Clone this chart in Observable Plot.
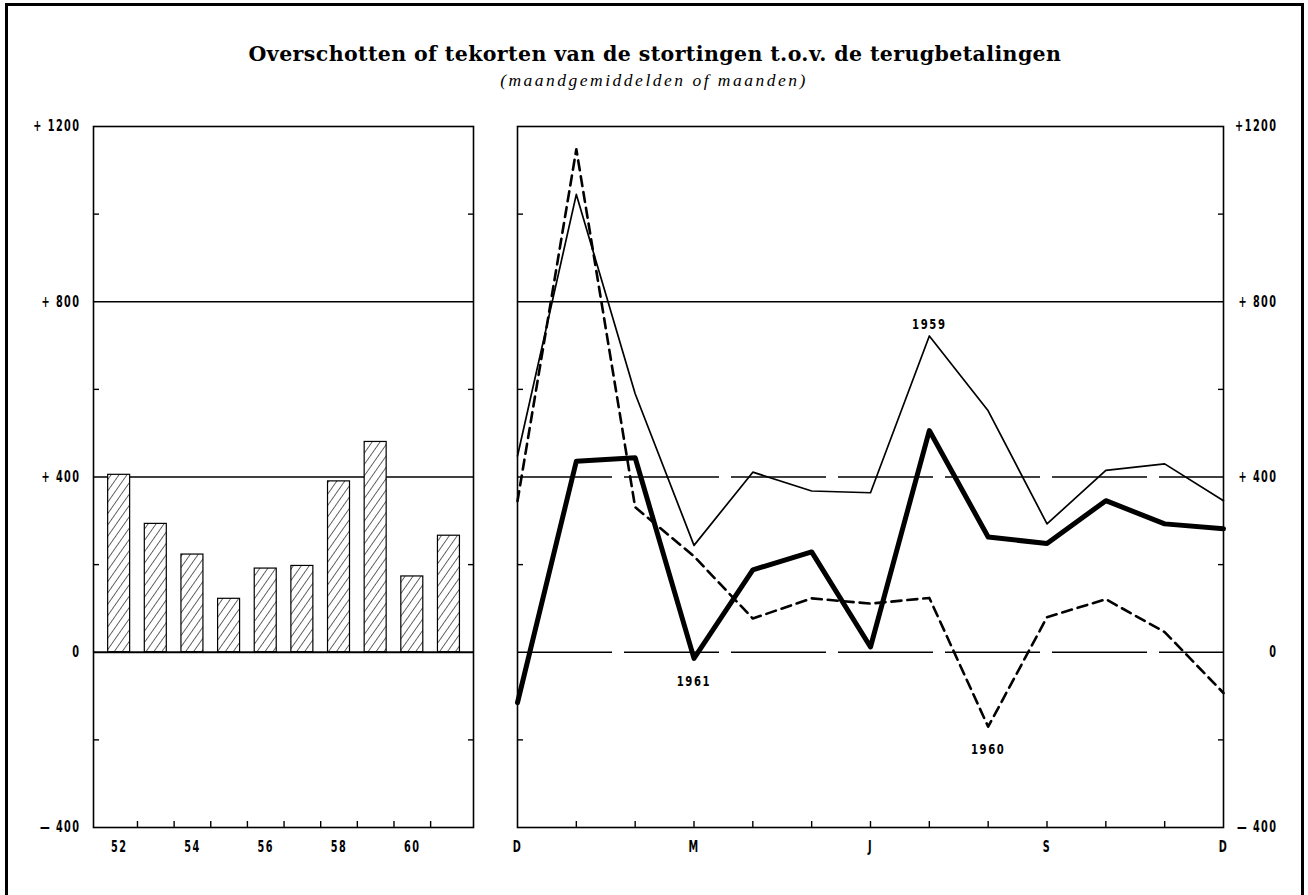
<!DOCTYPE html>
<html>
<head>
<meta charset="utf-8">
<script src="https://cdn.jsdelivr.net/npm/d3@7"></script>
<script src="https://cdn.jsdelivr.net/npm/@observablehq/plot@0.6"></script>
<style>
  html, body { margin: 0; padding: 0; background: #fff; overflow: hidden; }
  #page { position: relative; width: 1308px; height: 895px; overflow: hidden; }
  #border { position: absolute; left: 5px; top: 3px; width: 1293px; height: 910px; border: 3px solid #000; }
  #title { position: absolute; left: 0; width: 1310px; top: 42px; text-align: center;
    font-family: "DejaVu Serif", serif; font-weight: bold; font-size: 20.5px; color: #000; letter-spacing: 0.4px; }
  #subtitle { position: absolute; left: 0; width: 1308px; top: 70px; text-align: center;
    font-family: "Liberation Serif", serif; font-style: italic; font-size: 17.5px; color: #000; letter-spacing: 2.5px; }
  .panel { position: absolute; top: 100px; }
  .panel svg text { letter-spacing: 2px; }
</style>
</head>
<body>
<svg width="0" height="0" style="position:absolute">
  <defs>
    <pattern id="hatch" width="6.5" height="6.5" patternUnits="userSpaceOnUse" patternTransform="rotate(35)">
      <rect width="6.5" height="6.5" fill="#fff"></rect>
      <line x1="0" y1="0" x2="0" y2="6.5" stroke="#000" stroke-width="1.2"></line>
    </pattern>
  </defs>
</svg>
<div id="page">
  <div id="border"></div>
  <div id="title">Overschotten of tekorten van de stortingen t.o.v. de terugbetalingen</div>
  <div id="subtitle">(maandgemiddelden of maanden)</div>
  <div id="left" class="panel" style="left:0px"></div>
  <div id="right" class="panel" style="left:490px"></div>
</div>
<script>
// ---- Data ----
const years = [52, 53, 54, 55, 56, 57, 58, 59, 60, 61];
const yearlyAverages = [405, 293, 223, 122, 191, 197, 390, 480, 173, 266];
const yearTickLabels = [52, 54, 56, 58, 60];

const monthIndex = [0, 1, 2, 3, 4, 5, 6, 7, 8, 9, 10, 11, 12];
const monthTickLabels = ["D", "M", "J", "S", "D"];
const monthTickPositions = [0, 3, 6, 9, 12];

const series1959 = [448, 1045, 590, 244, 411, 368, 364, 722, 551, 293, 415, 430, 346];
const series1960 = [345, 1148, 331, 219, 77, 123, 111, 124, -170, 80, 121, 46, -93];
const series1961 = [-115, 436, 444, -14, 188, 229, 12, 506, 263, 248, 346, 293, 282];

const yLabelValues = [-400, 0, 400, 800, 1200];
const yMinorTicks = [-200, 200, 600, 1000];
const yGridSolid = [800];
const yGridBroken = [400, 0];

const annotations = [
  {label: "1959", series: series1959, m: 7, dy: -15},
  {label: "1961", series: series1961, m: 3, dy: 19},
  {label: "1960", series: series1960, m: 8, dy: 19}
];

// ---- Tables ----
const bars = years.map((y, i) => ({year: y, value: yearlyAverages[i]}));
const rows = monthIndex.map((m, i) => ({m, v59: series1959[i], v60: series1960[i], v61: series1961[i]}));
const notes = annotations.map(a => ({label: a.label, m: a.m, v: a.series[a.m], dy: a.dy}));

const font = {fontFamily: "'Liberation Sans Narrow', 'DejaVu Sans Condensed', 'DejaVu Sans', sans-serif", fontWeight: "bold", fontSize: 15};
const fmtLeft = d => d > 0 ? "+ " + d : d < 0 ? "\u2014 " + (-d) : "0";
const fmtRight = d => d === 1200 ? "+1200" : d > 0 ? "+ " + d : d < 0 ? "\u2014 " + (-d) : "0";

// ---- Left panel: yearly averages ----
const left = Plot.plot({
  width: 500, height: 760,
  marginLeft: 93, marginRight: 27, marginTop: 26, marginBottom: 33,
  x: {type: "linear", domain: [51.3, 61.67], label: null},
  y: {domain: [-400, 1200], label: null},
  style: {background: "transparent", color: "#000"},
  marks: [
    Plot.ruleY(yGridSolid.concat([400]), {stroke: "#000", strokeWidth: 1.3}),
    Plot.rectY(bars, {x1: d => d.year - 0.3, x2: d => d.year + 0.3, y1: 0, y2: "value",
      fill: "url(#hatch)", stroke: "#000", strokeWidth: 1.2}),
    Plot.ruleY([0], {stroke: "#000", strokeWidth: 2}),
    Plot.frame({stroke: "#000", strokeWidth: 1.6}),
    Plot.axisY({anchor: "left", ticks: yLabelValues, tickSize: 0, tickPadding: 13, tickFormat: fmtLeft, ...font}),
    Plot.axisY({anchor: "left", ticks: yMinorTicks, tickSize: -6, tickFormat: () => "", strokeWidth: 1.4}),
    Plot.axisY({anchor: "right", ticks: yMinorTicks, tickSize: -6, tickFormat: () => "", strokeWidth: 1.4}),
    Plot.axisX({anchor: "bottom", ticks: yearTickLabels, tickSize: 0, tickPadding: 14, tickFormat: d => String(d), ...font}),
    Plot.axisX({anchor: "bottom", ticks: years.slice(0, -1).map(y => y + 0.5), tickSize: -6, tickFormat: () => "", strokeWidth: 1.4})
  ]
});
document.getElementById("left").appendChild(left);

// ---- Right panel: monthly series ----
const right = Plot.plot({
  width: 818, height: 760,
  marginLeft: 27, marginRight: 85, marginTop: 26, marginBottom: 33,
  x: {type: "linear", domain: [0, 12], label: null},
  y: {domain: [-400, 1200], label: null},
  style: {background: "transparent", color: "#000"},
  marks: [
    Plot.ruleY(yGridSolid, {stroke: "#000", strokeWidth: 1.4}),
    Plot.ruleY(yGridBroken, {stroke: "#000", strokeWidth: 1.6, strokeDasharray: "95,12"}),
    Plot.line(rows, {x: "m", y: "v59", stroke: "#000", strokeWidth: 1.7}),
    Plot.line(rows, {x: "m", y: "v60", stroke: "#000", strokeWidth: 2.6, strokeDasharray: "10,6"}),
    Plot.line(rows, {x: "m", y: "v61", stroke: "#000", strokeWidth: 5}),
    Plot.text(notes, {x: "m", y: "v", text: "label", ...font, fontSize: 14}),
    Plot.frame({stroke: "#000", strokeWidth: 1.6}),
    Plot.axisY({anchor: "right", ticks: yLabelValues, tickSize: 0, tickPadding: 54, textAnchor: "end", tickFormat: fmtRight, ...font}),
    Plot.axisY({anchor: "left", ticks: yMinorTicks, tickSize: -6, tickFormat: () => "", strokeWidth: 1.4}),
    Plot.axisY({anchor: "right", ticks: yMinorTicks, tickSize: -6, tickFormat: () => "", strokeWidth: 1.4}),
    Plot.axisX({anchor: "bottom", ticks: monthTickPositions, tickSize: 0, tickPadding: 14,
      tickFormat: d => monthTickLabels[monthTickPositions.indexOf(d)], ...font}),
    Plot.axisX({anchor: "bottom", ticks: monthIndex.slice(1, -1), tickSize: -6, tickFormat: () => "", strokeWidth: 1.4})
  ]
});
document.getElementById("right").appendChild(right);

// apply per-annotation vertical offsets
const texts = right.querySelectorAll("g[aria-label='text'] text");
texts.forEach((t, i) => { if (notes[i]) t.setAttribute("dy", notes[i].dy + 4); });

// narrow the lettering (the original uses a condensed face)
document.querySelectorAll(".panel svg text").forEach(t => {
  const w = t.getComputedTextLength();
  const isNote = t.closest("g[aria-label='text']") !== null;
  if (w > 0) {
    t.setAttribute("textLength", (w * (isNote ? 0.8 : 0.72)).toFixed(1));
    t.setAttribute("lengthAdjust", "spacingAndGlyphs");
  }
});
</script>
</body>
</html>
